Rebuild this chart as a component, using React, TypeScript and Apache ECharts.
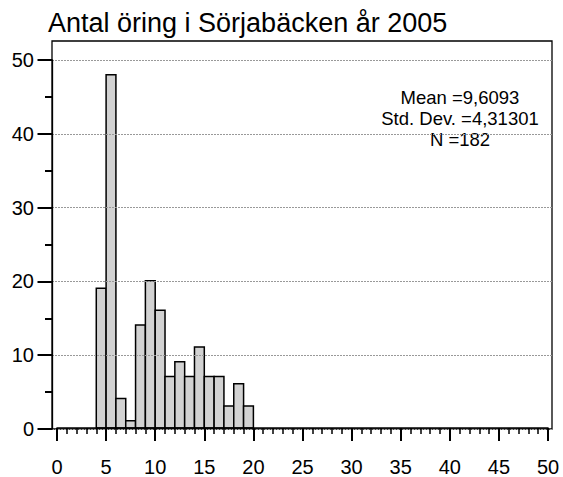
import React, { useEffect, useRef } from 'react';
import * as echarts from 'echarts';

const titleText = 'Antal öring i Sörjabäcken år 2005';
const binStarts = [4, 5, 6, 7, 8, 9, 10, 11, 12, 13, 14, 15, 16, 17, 18, 19];
const binWidth = 1;
const counts = [19, 48, 4, 1, 14, 20, 16, 7, 9, 7, 11, 7, 7, 3, 6, 3];
const statLines = ['Mean =9,6093', 'Std. Dev. =4,31301', 'N =182'];
const xRange = { min: 0, max: 50, interval: 5, minorSplit: 5 };
const yRange = { min: 0, max: 50, interval: 10, minorSplit: 2 };

const FONT = '"Liberation Sans", Arial, sans-serif';

export default function App() {
  const ref = useRef<HTMLDivElement>(null);
  useEffect(() => {
    if (!ref.current) return;
    const chart = echarts.init(ref.current, null, { renderer: 'svg' });
    const binData = binStarts.map((s, i) => [s, s + binWidth, counts[i]]);
    chart.setOption({
      animation: false,
      backgroundColor: '#fff',
      title: {
        text: titleText,
        left: 43,
        top: 4.5,
        textStyle: { fontSize: 27, fontWeight: 'normal', color: '#000', fontFamily: FONT },
      },
      grid: [
        // frame
        { left: 52, top: 41, width: 500, height: 388, show: true, borderColor: '#000', borderWidth: 1.3, backgroundColor: 'transparent', containLabel: false },
        // gridlines & y axis
        { left: 52, top: 60, width: 500, height: 369, containLabel: false },
        // data
        { left: 57, top: 60, width: 491, height: 369, containLabel: false },
      ],
      xAxis: [
        { gridIndex: 0, type: 'value', min: 0, max: 1, show: false },
        { gridIndex: 1, type: 'value', min: 0, max: 1, show: false },
        {
          gridIndex: 2,
          type: 'value',
          min: xRange.min,
          max: xRange.max,
          interval: xRange.interval,
          axisLine: { show: true, onZero: false, lineStyle: { color: '#000', width: 1.6 } },
          axisTick: { show: true, length: 13, lineStyle: { color: '#000', width: 2 } },
          minorTick: { show: true, splitNumber: xRange.minorSplit, length: 6, lineStyle: { color: '#000', width: 1.5 } },
          splitLine: { show: false },
          axisLabel: { color: '#000', fontSize: 20, fontFamily: FONT, margin: 29 },
          z: 5,
        },
      ],
      yAxis: [
        { gridIndex: 0, type: 'value', min: 0, max: 1, show: false },
        {
          gridIndex: 1,
          type: 'value',
          min: yRange.min,
          max: yRange.max,
          interval: yRange.interval,
          axisLine: { show: true, lineStyle: { color: '#000', width: 1.3 } },
          axisTick: { show: true, length: 14.5, lineStyle: { color: '#000', width: 2 } },
          minorTick: { show: true, splitNumber: yRange.minorSplit, length: 7, lineStyle: { color: '#000', width: 2 } },
          splitLine: { show: true, lineStyle: { color: '#999', type: [2, 1], width: 1 } },
          axisLabel: { color: '#000', fontSize: 20, fontFamily: FONT, margin: 18 },
          z: 4,
        },
        { gridIndex: 2, type: 'value', min: yRange.min, max: yRange.max, show: false },
      ],
      graphic: statLines.map((line, i) => ({
        type: 'text',
        x: 460,
        y: 88.3 + i * 21.2,
        style: {
          text: line,
          align: 'center',
          verticalAlign: 'top',
          lineHeight: 18.5,
          font: `18.5px ${FONT}`,
          fill: '#000',
        },
      })),
      series: [
        {
          type: 'custom',
          xAxisIndex: 2,
          yAxisIndex: 2,
          data: binData,
          encode: { x: [0, 1], y: 2 },
          renderItem: (params: any, api: any) => {
            const x0 = api.value(0);
            const x1 = api.value(1);
            const y = api.value(2);
            const p0 = api.coord([x0, y]);
            const p1 = api.coord([x1, 0]);
            return {
              type: 'rect',
              shape: { x: p0[0], y: p0[1], width: p1[0] - p0[0], height: p1[1] - p0[1] },
              style: { fill: '#d2d2d2', stroke: '#000', lineWidth: 1.5 },
            };
          },
          z: 3,
        },
      ],
    });
    return () => chart.dispose();
  }, []);
  return <div ref={ref} style={{ position: 'fixed', left: 0, top: 0, width: 563, height: 477, background: '#fff' }} />;
}
